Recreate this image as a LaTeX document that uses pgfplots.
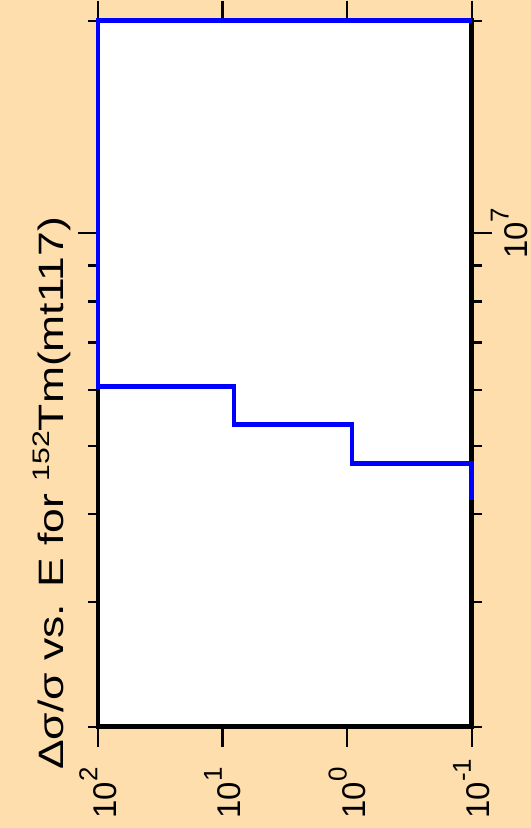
\documentclass[border=0pt]{standalone}
\usepackage{fontspec}
\setmainfont{Liberation Sans}
\usepackage{graphicx}
\usepackage{pgfplots}
\pgfplotsset{compat=1.18}
\definecolor{bg}{HTML}{FFDEAD}
\newcommand{\tl}[1]{\fontsize{33}{33}\selectfont 10\raisebox{19bp}{\fontsize{26}{26}\selectfont #1}}
\begin{document}
\begin{tikzpicture}[x=1bp,y=1bp]
\fill[bg] (0,0) rectangle (531,828);
\path[use as bounding box] (0,0) rectangle (531,828);
\begin{axis}[
 at={(98bp,101.3bp)}, anchor=south west, scale only axis,
 width=373.7bp, height=706bp,
 xmode=log, ymode=log, x dir=reverse,
 xmin=0.1, xmax=100, ymin=2e6, ymax=2e7,
 xtick={0.1,1,10,100}, xticklabels={\tl{-1},\tl{0},\tl{1},\tl{2}},
 xminorticks=false,
 ytick={1e7}, yticklabels={\tl{7}},
 minor ytick={2e6,3e6,4e6,5e6,6e6,7e6,8e6,9e6,2e7},
 xtick pos=both, ytick pos=both, yticklabel pos=right,
 tick align=outside, major tick length=20bp, minor tick length=10bp,
 tick style={black, line width=2.2bp},
 axis line style={black, line width=4.5bp},
 axis background/.style={fill=white},
 xticklabel style={rotate=90, anchor=west, inner sep=0pt},
 yticklabel style={rotate=90, anchor=north, inner sep=0pt},
 xticklabel shift=72bp,
 yticklabel shift=-1bp,
 clip=false,
]
\addplot[blue, line width=4.6bp, line join=miter] coordinates {
 (0.1,2e7) (100,2e7) (100,6.07e6) (8.1,6.07e6) (8.1,5.36e6)
 (0.915,5.36e6) (0.915,4.72e6) (0.1,4.72e6) (0.1,4.19e6)
};
\end{axis}
\node[rotate=90, anchor=base, inner sep=0pt] at (63,334.5)
 {\fontsize{35.4}{40}\selectfont\scalebox{1.26}[1]{Δσ/σ vs. E for \raisebox{14bp}{\fontsize{24}{24}\selectfont 152}Tm(mt117)}};
\end{tikzpicture}
\end{document}
